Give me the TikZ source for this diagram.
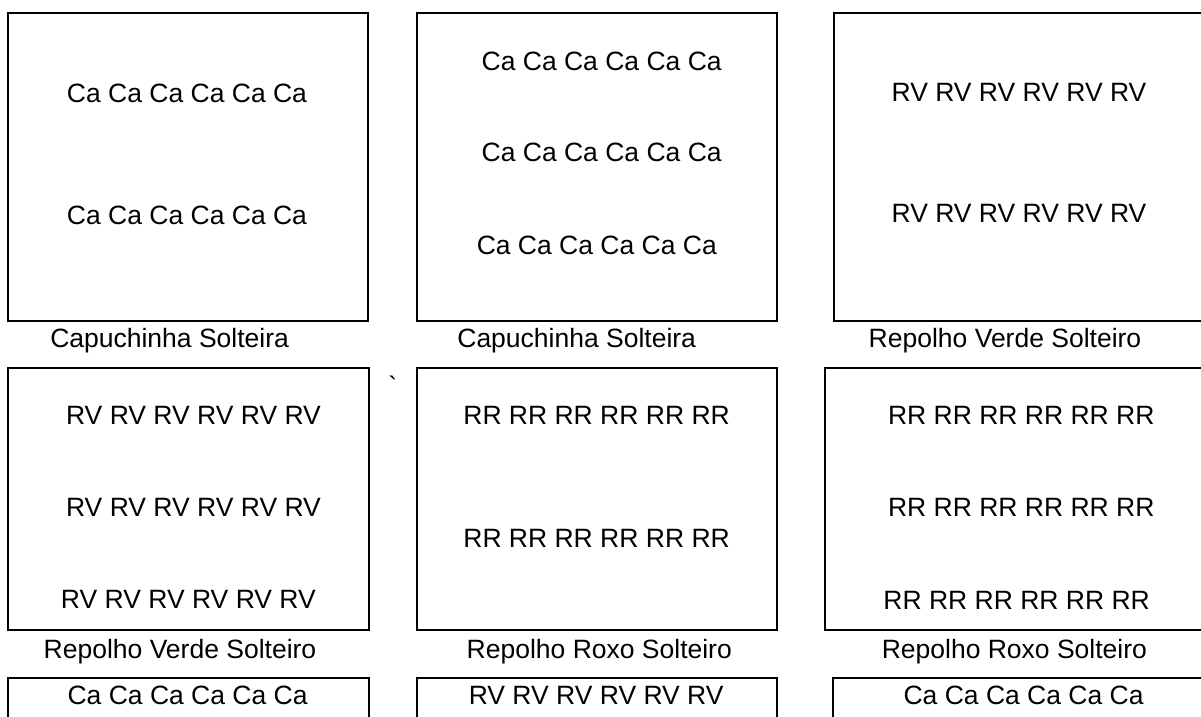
\documentclass[tikz,border=0pt]{standalone}
\usepackage{fontspec}
\setmainfont{Liberation Sans}

\tikzset{
	canteiro/.style={line width=1pt},
	linha/.style={anchor=base, inner sep=0pt, font=\fontsize{13.25}{16}\selectfont},
}

\begin{document}
\begin{tikzpicture}[x=0.5pt, y=-0.5pt]
			\useasboundingbox (0,0) rectangle (1201,717);
			\clip (0,0) rectangle (1201,717);
			% primeira fileira
			\draw[canteiro] (7.5,12.7) rectangle (367.7,320.7);
			\draw[canteiro] (417,12.7) rectangle (777,320.7);
			\draw[canteiro] (1210,12.7) -| (833.5,320.7) -- (1210,320.7);
			\foreach \y/\n in {103/a, 224.5/b} {
				\node[linha] (capA\n) at (187,\y) {Ca Ca Ca Ca Ca Ca};
				\node[linha] (verdeA\n) at (1019,\y-1.5) {RV RV RV RV RV RV};
			}
			\foreach \x/\y/\n in {601.7/70.5/a, 601.7/162/b, 596.8/254.5/c} {
				\node[linha] (capB\n) at (\x,\y) {Ca Ca Ca Ca Ca Ca};
			}
			\node[linha] (rotA) at (169.6,347) {Capuchinha Solteira};
			\node[linha] (rotB) at (576.7,347) {Capuchinha Solteira};
			\node[linha] (rotC) at (1005,347) {Repolho Verde Solteiro};
			\node[linha] (acento) at (392.9,395) {\textasciigrave};
			
			% segunda fileira
			\draw[canteiro] (8,368.3) rectangle (368.5,630);
			\draw[canteiro] (417,368.3) rectangle (777,630);
			\draw[canteiro] (1210,368.3) -| (824.8,630) -- (1210,630);
			\foreach \x/\y/\n in {193.5/424.5/a, 193.5/516/b, 188.4/608/c} {
				\node[linha] (verdeD\n) at (\x,\y) {RV RV RV RV RV RV};
			}
			\node[linha] (roxoEa) at (596.6,424.5) {RR RR RR RR RR RR};
			\node[linha] (roxoEb) at (596.6,547) {RR RR RR RR RR RR};
			\foreach \x/\y/\n in {1021.3/424.5/a, 1021.3/516/b, 1016.7/609/c} {
				\node[linha] (roxoF\n) at (\x,\y) {RR RR RR RR RR RR};
			}
			\node[linha] (rotD) at (180,658) {Repolho Verde Solteiro};
			\node[linha] (rotE) at (599.3,658) {Repolho Roxo Solteiro};
			\node[linha] (rotF) at (1014.4,658) {Repolho Roxo Solteiro};
			
			% terceira fileira
			\draw[canteiro] (8,720) |- (368.5,677.7) -- (368.5,720);
			\draw[canteiro] (417,720) |- (777,677.7) -- (777,720);
			\draw[canteiro] (833.3,720) |- (1210,677.7);
			\node[linha] (capG) at (187.6,704.5) {Ca Ca Ca Ca Ca Ca};
			\node[linha] (verdeH) at (596.2,704.5) {RV RV RV RV RV RV};
			\node[linha] (capI) at (1023.6,704.5) {Ca Ca Ca Ca Ca Ca};
		\end{tikzpicture}
\end{document}
